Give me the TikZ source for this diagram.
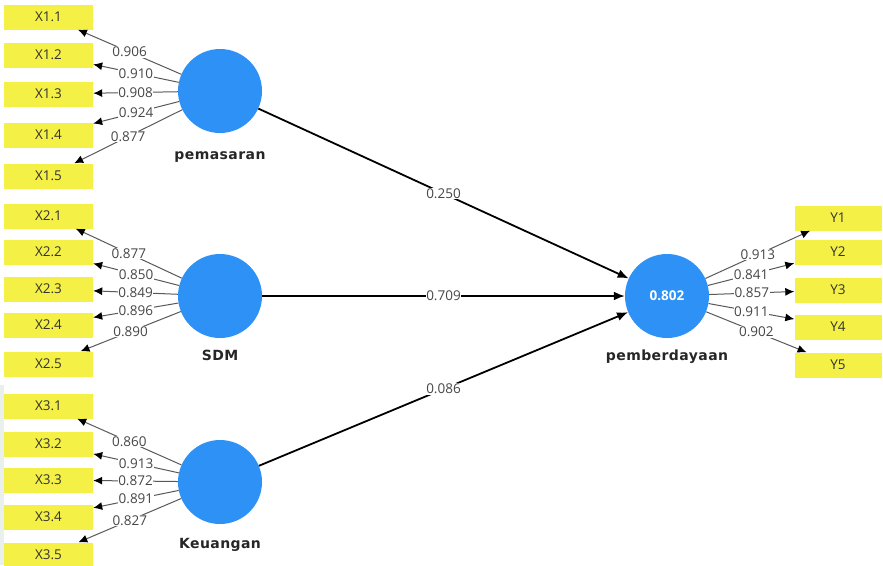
\documentclass[tikz,border=0pt]{standalone}
\usepackage{fontspec}
\setmainfont{Open Sans}
\newfontfamily\lvfont[LetterSpace=3]{DejaVu Sans}
\usetikzlibrary{arrows.meta}
\definecolor{cblue}{RGB}{45,145,245}
\definecolor{cyel}{RGB}{244,240,70}
\definecolor{ltxt}{RGB}{70,70,70}
\definecolor{strip}{RGB}{234,241,237}
\tikzset{
  ind/.style={fill=cyel, minimum width=89pt, minimum height=25pt, inner sep=0pt,
    font=\fontsize{13.5}{15}\selectfont, text=black!80},
  indy/.style={ind, minimum width=87pt},
  lv/.style={circle, fill=cblue, minimum size=84pt, inner sep=0pt},
  lvlab/.style={font=\lvfont\bfseries\fontsize{14}{16}\selectfont, text=black!85},
  load/.style={draw=black!65, line width=1pt, -{Latex[length=9pt,width=8pt,color=black]}},
  path/.style={draw=black, line width=1.8pt, -{Latex[length=11pt,width=9pt]}},
  wt/.style={fill=white, inner sep=0.6pt, font=\fontsize{13.5}{15}\selectfont, text=ltxt},
}
\begin{document}
\begin{tikzpicture}[x=1pt,y=-1pt]
\clip (0,0) rectangle (883,565);
\fill[white] (0,0) rectangle (883,565);
\fill[strip] (0,385) rectangle (4,565);

% indicators left
\node[ind] (x11) at (48.5,17) {X1.1};
\node[ind] (x12) at (48.5,55) {X1.2};
\node[ind] (x13) at (48.5,94) {X1.3};
\node[ind] (x14) at (48.5,135) {X1.4};
\node[ind] (x15) at (48.5,176) {X1.5};
\node[ind] (x21) at (48.5,216) {X2.1};
\node[ind] (x22) at (48.5,252) {X2.2};
\node[ind] (x23) at (48.5,289) {X2.3};
\node[ind] (x24) at (48.5,325) {X2.4};
\node[ind] (x25) at (48.5,364) {X2.5};
\node[ind] (x31) at (48.5,406) {X3.1};
\node[ind] (x32) at (48.5,444) {X3.2};
\node[ind] (x33) at (48.5,480) {X3.3};
\node[ind] (x34) at (48.5,517) {X3.4};
\node[ind] (x35) at (48.5,555) {X3.5};
% indicators right
\node[indy] (y1) at (838,218) {Y1};
\node[indy] (y2) at (838,252) {Y2};
\node[indy] (y3) at (838,290) {Y3};
\node[indy] (y4) at (838,327) {Y4};
\node[indy] (y5) at (838,365) {Y5};

% latent variables
\node[lv] (pem) at (220,91) {};
\node[lv] (sdm) at (220,296) {};
\node[lv] (keu) at (220,482) {};
\node[lv, font=\bfseries\fontsize{13.5}{15}\selectfont, text=white] (pbd) at (667,296) {0.802};
\node[lvlab] (lpem) at (220,157) {pemasaran};
\node[lvlab] (lsdm) at (220,355) {SDM};
\node[lvlab] (lkeu) at (220,545) {Keuangan};
\node[lvlab] (lpbd) at (667,357) {pemberdayaan};

% loadings
\draw[load] (pem) -- node[wt]{0.906} (x11);
\draw[load] (pem) -- node[wt]{0.910} (x12);
\draw[load] (pem) -- node[wt]{0.908} (x13);
\draw[load] (pem) -- node[wt]{0.924} (x14);
\draw[load] (pem) -- node[wt]{0.877} (x15);
\draw[load] (sdm) -- node[wt]{0.877} (x21);
\draw[load] (sdm) -- node[wt]{0.850} (x22);
\draw[load] (sdm) -- node[wt]{0.849} (x23);
\draw[load] (sdm) -- node[wt]{0.896} (x24);
\draw[load] (sdm) -- node[wt]{0.890} (x25);
\draw[load] (keu) -- node[wt]{0.860} (x31);
\draw[load] (keu) -- node[wt]{0.913} (x32);
\draw[load] (keu) -- node[wt]{0.872} (x33);
\draw[load] (keu) -- node[wt]{0.891} (x34);
\draw[load] (keu) -- node[wt]{0.827} (x35);
\draw[load] (pbd) -- node[wt]{0.913} (y1);
\draw[load] (pbd) -- node[wt]{0.841} (y2);
\draw[load] (pbd) -- node[wt]{0.857} (y3);
\draw[load] (pbd) -- node[wt]{0.911} (y4);
\draw[load] (pbd) -- node[wt]{0.902} (y5);

% structural paths
\draw[path] (pem) -- node[wt]{0.250} (pbd);
\draw[path] (sdm) -- node[wt]{0.709} (pbd);
\draw[path] (keu) -- node[wt]{0.086} (pbd);
\end{tikzpicture}
\end{document}
